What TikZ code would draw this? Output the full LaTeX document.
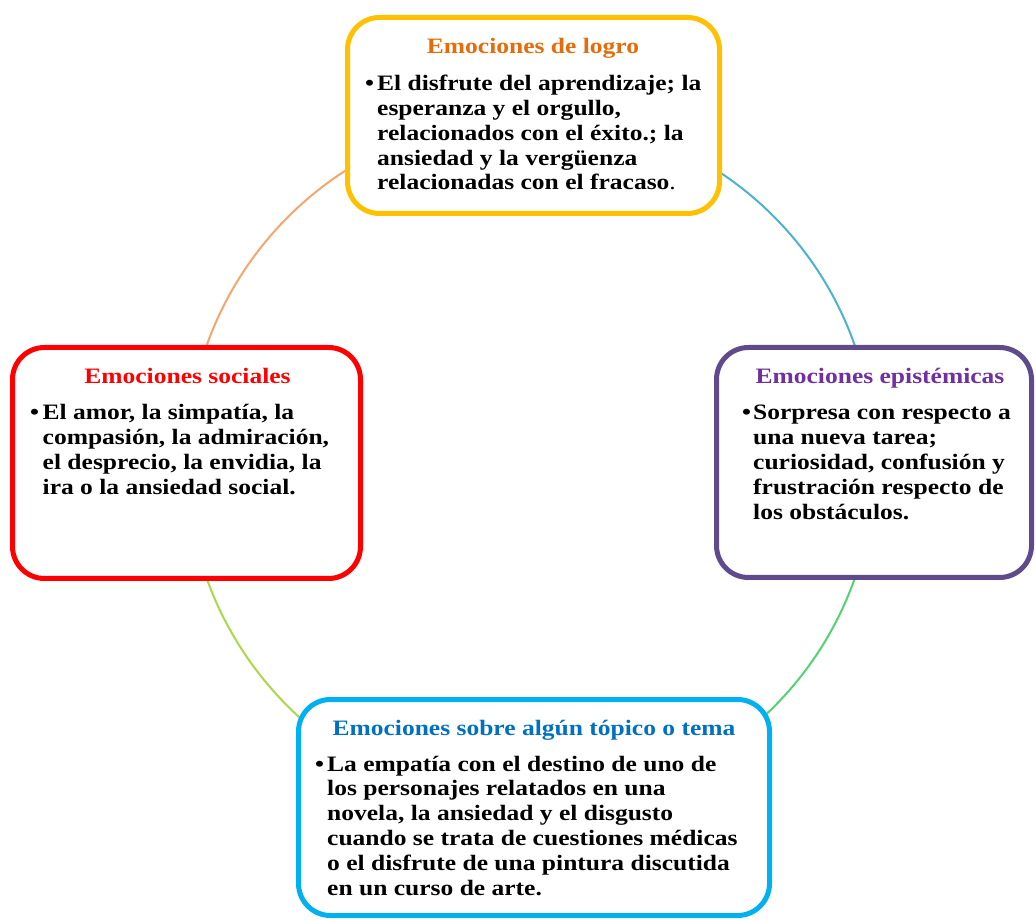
\documentclass[tikz,border=0pt]{standalone}
\usepackage{fontspec}
\setmainfont{Liberation Serif}[FakeStretch=1.16]
\usetikzlibrary{backgrounds}
\definecolor{cGold}{HTML}{FFC000}
\definecolor{cOrangeT}{HTML}{E46C0A}
\definecolor{cRed}{HTML}{FF0000}
\definecolor{cPurpleB}{HTML}{5F4B8B}
\definecolor{cPurpleT}{HTML}{7030A0}
\definecolor{cBlueB}{HTML}{00B0F0}
\definecolor{cBlueT}{HTML}{0070C0}
\definecolor{aOrange}{HTML}{F5A66E}
\definecolor{aTeal}{HTML}{4BB3CB}
\definecolor{aLime}{HTML}{A9D84B}
\definecolor{aGreen}{HTML}{55D273}
\tikzset{
  box/.style={draw, line width=5pt, fill=white, rounded corners=32pt, inner sep=0pt},
  ring/.style={line width=2pt},
  ttl/.style={anchor=base, inner sep=0pt, font=\fontsize{22}{25}\selectfont\bfseries},
  bul/.style={anchor=base west, inner sep=0pt, font=\fontsize{22}{25}\selectfont\bfseries},
  body/.style={anchor=base west, inner sep=0pt, font=\fontsize{22}{24.8}\selectfont\bfseries},
}
\begin{document}
\begin{tikzpicture}[x=1pt,y=1pt]
\useasboundingbox (0,0) rectangle (1036,919);
% boxes
\node[box, draw=cGold, minimum width=372pt, minimum height=196pt] (top) at (533.5,803.5) {};
\node[box, draw=cRed, minimum width=348pt, minimum height=231pt] (left) at (186.5,456) {};
\node[box, draw=cPurpleB, minimum width=315pt, minimum height=230pt] (right) at (874,456.5) {};
\node[box, draw=cBlueB, minimum width=471pt, minimum height=216pt] (bottom) at (534,111.5) {};
% ring connectors behind the boxes
\begin{scope}[on background layer]
\draw[ring, aOrange] (top.center) to[bend right=45] (left.center);
\draw[ring, aLime] (left.center) to[bend right=45] (bottom.center);
\draw[ring, aGreen] (bottom.center) to[bend right=45] (right.center);
\draw[ring, aTeal] (right.center) to[bend right=45] (top.center);
\end{scope}
% top box
\node[ttl, text=cOrangeT] (topT) at (533,865) {Emociones de logro};
\node[bul] (topB) at (365,828.3) {•};
\node[body] (topX) at (377,828.3) {\parbox[t]{340pt}{El disfrute del aprendizaje; la\\esperanza y el orgullo,\\relacionados con el éxito.; la\\ansiedad y la vergüenza\\relacionadas con el fracaso\textmd{.}}};
% left box
\node[ttl, text=cRed] (leftT) at (187.5,535) {Emociones sociales};
\node[bul] (leftB) at (30,499) {•};
\node[body] (leftX) at (42.5,499) {\parbox[t]{320pt}{El amor, la simpatía, la\\compasión, la admiración,\\el desprecio, la envidia, la\\ira o la ansiedad social.}};
% right box
\node[ttl, text=cPurpleT] (rightT) at (880,535) {Emociones epistémicas};
\node[bul] (rightB) at (742,499) {•};
\node[body] (rightX) at (753,499) {\parbox[t]{280pt}{Sorpresa con respecto a\\una nueva tarea;\\curiosidad, confusión y\\frustración respecto de\\los obstáculos.}};
% bottom box
\node[ttl, text=cBlueT] (bottomT) at (534,184) {Emociones sobre algún tópico o tema};
\node[bul] (bottomB) at (315,148) {•};
\node[body] (bottomX) at (327,148) {\parbox[t]{440pt}{La empatía con el destino de uno de\\los personajes relatados en una\\novela, la ansiedad y el disgusto\\cuando se trata de cuestiones médicas\\o el disfrute de una pintura discutida\\en un curso de arte.}};
\end{tikzpicture}
\end{document}
